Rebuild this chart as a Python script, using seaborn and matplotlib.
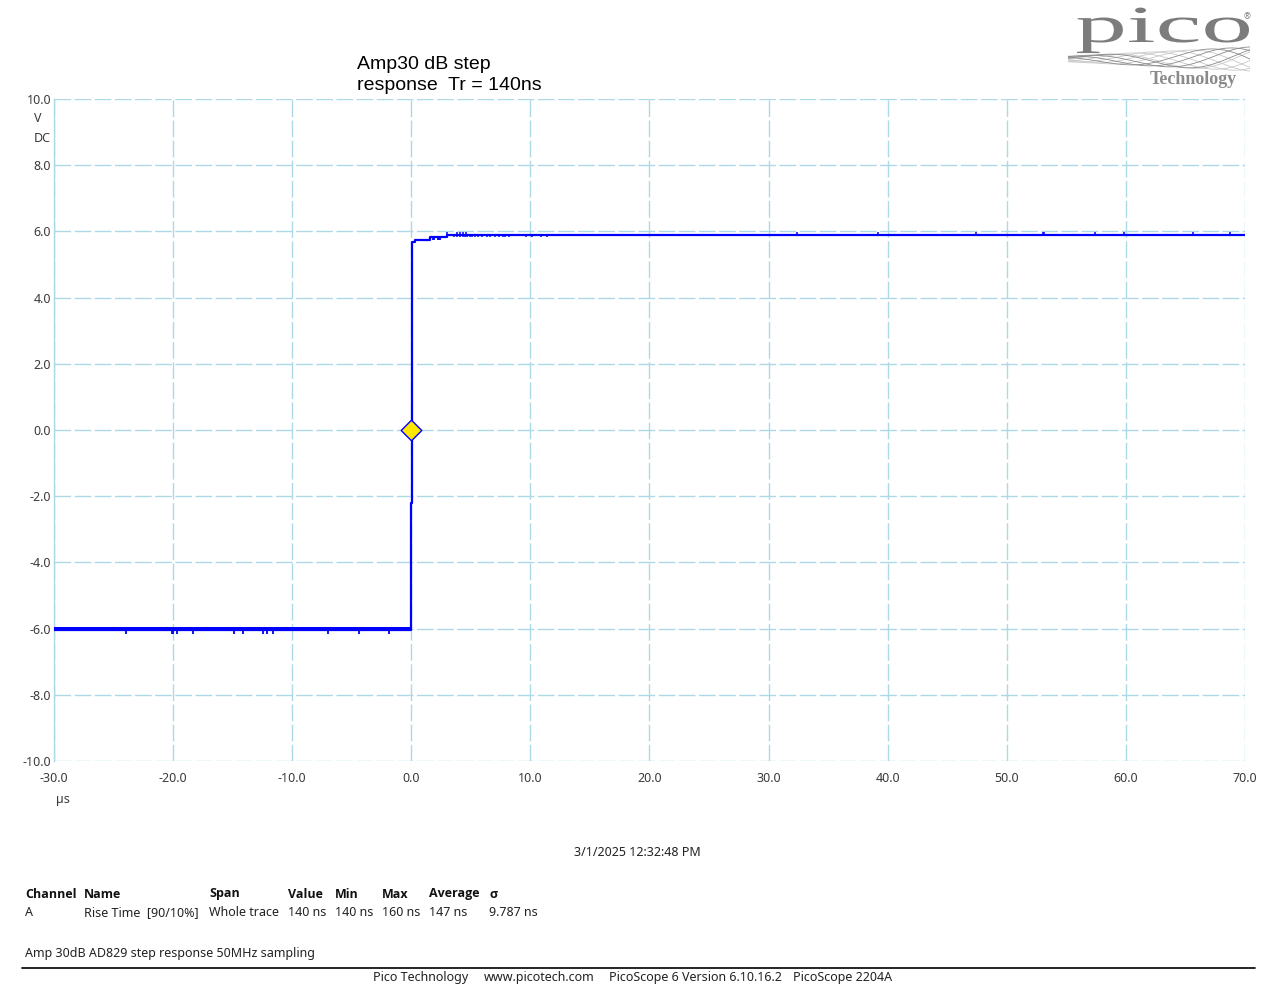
import numpy as np
import pandas as pd
import matplotlib
matplotlib.use('Agg')
import matplotlib.pyplot as plt
import seaborn as sns
from matplotlib.textpath import TextPath
from matplotlib.patches import PathPatch
from matplotlib.font_manager import FontProperties
from matplotlib.transforms import Affine2D

## trace values (time in us, volts)
trace_t = [-30.0, -0.10, -0.05, 0.00, 0.03, 0.06, 0.10, 0.30, 1.60, 3.00, 70.0]
trace_v = [-6.03, -6.03, -5.30, -2.20, 4.50, 5.60, 5.68, 5.74, 5.83, 5.90, 5.90]

# noise band on the low level
band_t = [-30.0, -0.10]
band_lo = [-6.07, -6.07]
band_hi = [-5.96, -5.96]

# single-sample glitches
low_spike_t = [-23.95, -20.1, -20.03, -19.7, -18.3, -14.86, -14.1, -12.48, -12.14,
               -11.58, -6.97, -4.37, -1.85]
low_spike_v = -6.17
plat_spike_t = [1.8, 1.9, 2.2, 2.3, 2.45]
plat_spike_v = 5.74
high_dn_t = [3.6, 3.8, 4.1, 4.3, 4.5, 4.7, 4.9, 5.1, 5.35, 5.6, 5.94, 6.36, 6.61,
             7.03, 7.36, 7.70, 7.87, 8.2, 9.63, 10.13, 10.89, 11.39]
high_dn_v = 5.83
high_up_t = [2.97, 3.81, 4.09, 4.3, 4.6, 32.4, 39.2, 47.4, 53.0, 53.1, 57.4, 59.8,
             65.6, 68.7]
high_up_v = 5.97

x_ticks = [-30, -20, -10, 0, 10, 20, 30, 40, 50, 60, 70]
y_ticks = [-10, -8, -6, -4, -2, 0, 2, 4, 6, 8, 10]

title_lines = ['Amp30 dB step', 'response  Tr = 140ns']
table_head = ['Channel', 'Name', 'Span', 'Value', 'Min', 'Max', 'Average', '\u03c3']
table_row = ['A', 'Rise Time  [90/10%]', 'Whole trace', '140 ns', '140 ns', '160 ns',
             '147 ns', '9.787 ns']
table_x = [25, 84, 209, 288, 335, 382, 429, 489]
footer = ['Pico Technology', 'www.picotech.com', 'PicoScope 6 Version 6.10.16.2',
          'PicoScope 2204A']
footer_x = [373, 484, 609, 793]

W, H = 1277, 986

sns.set_style('white')
plt.rcParams['font.family'] = ['Noto Sans', 'DejaVu Sans']
plt.rcParams['axes.unicode_minus'] = False

fig = plt.figure(figsize=(W / 100, H / 100), dpi=100)
ax = fig.add_axes([54 / W, 1 - 761 / H, (1245 - 54) / W, (761 - 99) / H])

grid_col = '#add8e6'
trace_col = '#0000ff'

df = pd.DataFrame({'t': trace_t, 'v': trace_v})
ax.fill_between(band_t, band_lo, band_hi, color=trace_col, lw=0, zorder=3)
sns.lineplot(data=df, x='t', y='v', ax=ax, color=trace_col, lw=1.6,
             drawstyle='steps-post', estimator=None, sort=False, zorder=3)
ax.vlines(low_spike_t, -6.03, low_spike_v, color=trace_col, lw=1.3, zorder=3)
ax.vlines(plat_spike_t, 5.83, plat_spike_v, color=trace_col, lw=1.3, zorder=3)
ax.vlines(high_dn_t, 5.90, high_dn_v, color=trace_col, lw=1.1, zorder=3)
ax.vlines(high_up_t, 5.90, high_up_v, color=trace_col, lw=1.1, zorder=3)

# trigger marker
sns.scatterplot(x=[0.0], y=[0.0], ax=ax, marker='D', s=110, color='#ffe800',
                edgecolor=trace_col, linewidth=1, zorder=5)

ax.set_xlim(-30, 70)
ax.set_ylim(-10, 10)
ax.set_xticks(x_ticks)
ax.set_xticklabels([f'{v:.1f}' for v in x_ticks])
ax.set_yticks(y_ticks)
ax.set_yticklabels([f'{v:.1f}' for v in y_ticks])
ax.tick_params(axis='both', length=0, labelsize=9, labelcolor='#3a3a3a')
ax.tick_params(axis='y', pad=2)
ax.tick_params(axis='x', pad=8)
ax.set_xlabel('')
ax.set_ylabel('')
ax.grid(True, color=grid_col, lw=1, ls=(0, (12, 2.5)))
for s in ['top', 'right', 'bottom']:
    ax.spines[s].set_visible(False)
ax.spines['left'].set_color(grid_col)
ax.spines['left'].set_linewidth(1)

def px(x, y):
    return x / W, 1 - y / H

# units
fig.text(*px(34, 119), 'V', fontsize=9, color='#3a3a3a', va='center', ha='left')
fig.text(*px(34, 138), 'DC', fontsize=9, color='#3a3a3a', va='center', ha='left')
fig.text(*px(56, 799), '\u00b5s', fontsize=9, color='#3a3a3a', va='center', ha='left')

# title
fig.text(*px(357, 69), title_lines[0], fontsize=14, family='Liberation Sans',
         color='black', va='baseline')
fig.text(*px(357, 90), title_lines[1], fontsize=14, family='Liberation Sans',
         color='black', va='baseline')

# date, measurement table, notes
fig.text(*px(637, 852), '3/1/2025 12:32:48 PM', fontsize=9, color='#222222',
         ha='center', va='center')
for x, h, r in zip(table_x, table_head, table_row):
    fig.text(*px(x, 894), h, fontsize=9, family=['Open Sans', 'DejaVu Sans'],
             weight='bold', color='#111111', va='center')
    fig.text(*px(x, 913), r, fontsize=9, color='#222222', va='center')
fig.text(*px(25, 954), 'Amp 30dB AD829 step response 50MHz sampling', fontsize=9,
         color='#222222', va='center')
fig.add_artist(plt.Line2D([22 / W, 1255 / W], [1 - 968 / H] * 2, color='black', lw=1.2))
for x, s in zip(footer_x, footer):
    fig.text(*px(x, 977), s, fontsize=9, color='#222222', va='center')

# pico logo
logo_col = '#7c7c7c'
tp = TextPath((0, 0), 'pico', size=52, prop=FontProperties(family='Liberation Serif'))
bb = tp.get_extents()
sx = 172 / bb.width
tr = Affine2D().translate(-bb.x0, 0).scale(sx / 100, 1 / 100).translate(1077 / 100, (H - 42) / 100)
fig.add_artist(PathPatch(tp, transform=tr + fig.dpi_scale_trans, color=logo_col, lw=0))
fig.text(*px(1247, 17), '\u00ae', fontsize=6, color=logo_col, ha='center', va='center')
fig.text(*px(1193, 80), 'Technology', fontsize=13, family='Liberation Serif',
         weight='bold', color='#8a8a8a', ha='center', va='center')
lax = fig.add_axes([1068 / W, 1 - 72 / H, 182 / W, 26 / H])
xs = np.linspace(0, 1, 200)
for k in range(9):
    ph = k * 0.12
    col = '#c8c8c8' if k < 5 else '#8a8a8a'
    lax.plot(xs, np.sin(2 * np.pi * (xs * 1.1 - ph)) * (0.3 + xs), color=col, lw=0.6)
lax.set_xlim(0, 1)
lax.set_ylim(-1.4, 1.4)
lax.axis('off')

fig.savefig('out.png', dpi=100)
